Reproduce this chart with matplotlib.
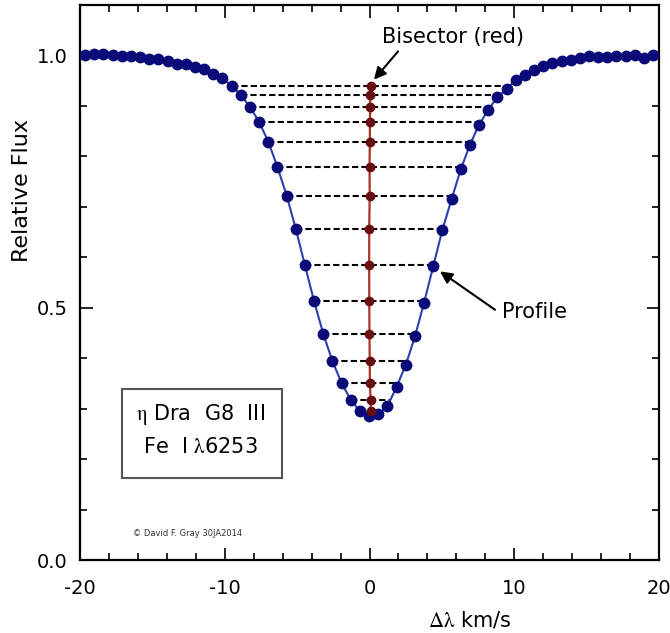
import numpy as np
import matplotlib
matplotlib.use("Agg")
import matplotlib.pyplot as plt
from matplotlib.patches import Rectangle
from matplotlib.ticker import MultipleLocator, FixedLocator, FormatStrFormatter

plt.rcParams['font.family'] = ['DejaVu Sans']
plt.rcParams['mathtext.fontset'] = 'stix'
plt.rcParams['axes.unicode_minus'] = False

# ---- data ----
velocity = [-19.65, -19.02, -18.38, -17.75, -17.12, -16.49, -15.85, -15.22, -14.59, -13.95,
            -13.32, -12.69, -12.05, -11.42, -10.79, -10.16, -9.52, -8.89, -8.26, -7.62,
            -6.99, -6.36, -5.72, -5.09, -4.46, -3.83, -3.19, -2.56, -1.93, -1.29,
            -0.66, -0.03, 0.61, 1.24, 1.87, 2.51, 3.14, 3.77, 4.40, 5.04,
            5.67, 6.30, 6.94, 7.57, 8.20, 8.84, 9.47, 10.10, 10.73, 11.37,
            12.00, 12.63, 13.27, 13.90, 14.53, 15.17, 15.80, 16.43, 17.06, 17.70,
            18.33, 18.96, 19.60]
flux = [1.001, 1.003, 1.003, 1.001, 0.999, 0.999, 0.997, 0.993, 0.993, 0.989,
        0.984, 0.984, 0.978, 0.974, 0.964, 0.955, 0.939, 0.922, 0.898, 0.868,
        0.829, 0.779, 0.722, 0.656, 0.584, 0.513, 0.448, 0.394, 0.351, 0.317,
        0.295, 0.285, 0.289, 0.305, 0.343, 0.387, 0.443, 0.510, 0.582, 0.655,
        0.715, 0.774, 0.823, 0.863, 0.892, 0.918, 0.933, 0.952, 0.961, 0.972,
        0.979, 0.986, 0.989, 0.991, 0.994, 0.999, 0.996, 0.996, 0.998, 0.999,
        1.000, 0.995, 1.001]
# bisector levels start at these left-wing points
bisector_first, bisector_last = 16, 30
x_ticks = [-20, -10, 0, 10, 20]
y_ticks = [0.0, 0.5, 1.0]

v = np.array(velocity)
f = np.array(flux)

fig = plt.figure(figsize=(6.7, 6.33), dpi=100)
ax = fig.add_axes([0.1194, 0.1153, 0.8642, 0.8768])
ax.set_xlim(-20, 20)
ax.set_ylim(0, 1.1)

# bisector construction
imin = int(np.argmin(f))
rv, rf = v[imin:imin + 17], f[imin:imin + 17]
levels = f[bisector_first:bisector_last + 1]
left_x = v[bisector_first:bisector_last + 1]
right_x = np.interp(levels, rf, rv)
bis_x = 0.5 * (left_x + right_x)

for lx, rx, lv in zip(left_x, right_x, levels):
    ax.plot([lx, rx], [lv, lv], color='black', lw=1.5, dashes=(3, 1.5), zorder=2)

ax.plot(v, f, color='#2a40b0', lw=1.5, zorder=3)
ax.plot(v, f, 'o', color='#0a0a78', ms=7.5, mec='#0a0a78', zorder=4)

ax.plot(bis_x, levels, color='#a83228', lw=1.6, zorder=5)
ax.plot(bis_x, levels, 'o', color='#681010', ms=6.0, zorder=6)

# axes styling
for s in ax.spines.values():
    s.set_linewidth(1.6)
ax.xaxis.set_major_locator(FixedLocator(x_ticks))
ax.xaxis.set_minor_locator(MultipleLocator(2))
ax.yaxis.set_major_locator(FixedLocator(y_ticks))
ax.yaxis.set_minor_locator(MultipleLocator(0.1))
ax.yaxis.set_major_formatter(FormatStrFormatter('%.1f'))
ax.tick_params(which='both', direction='in', top=True, right=True, width=1.2,
               labelsize=14, colors='black')
ax.tick_params(which='major', length=9)
ax.tick_params(which='minor', length=5)
ax.tick_params(axis='x', pad=14)
ax.tick_params(axis='y', pad=9)

fig.text(22 / 670, 1 - 190 / 633, 'Relative Flux', rotation=90, ha='center', va='center',
         fontsize=16)
fig.text(470 / 670, 1 - 620 / 633, r'$\mathrm{\Delta\lambda}$ km/s', ha='center', va='center',
         fontsize=15)

# annotations
ax.text(5.77, 1.036, 'Bisector (red)', ha='center', va='center', fontsize=15)
ax.annotate('', xy=(0.31, 0.952), xytext=(1.97, 1.008),
            arrowprops=dict(arrowstyle='-|>', color='black', lw=1.5,
                            mutation_scale=18, shrinkA=0, shrinkB=0), zorder=7)
ax.text(11.43, 0.492, 'Profile', ha='center', va='center', fontsize=15)
ax.annotate('', xy=(4.87, 0.572), xytext=(8.67, 0.496),
            arrowprops=dict(arrowstyle='-|>', color='black', lw=1.5,
                            mutation_scale=18, shrinkA=0, shrinkB=0), zorder=7)

ax.add_patch(Rectangle((-17.1, 0.163), 11.05, 0.176, fill=False,
                       edgecolor='#555555', lw=1.5, zorder=3))
ax.text(-11.65, 0.289, r'$\mathrm{\eta}$ Dra  G8  III', ha='center', va='center', fontsize=15)
ax.text(-11.65, 0.223, r'Fe  I $\mathrm{\lambda}$6253', ha='center', va='center', fontsize=15)

ax.text(-16.34, 0.052, '\u00a9 David F. Gray 30JA2014', ha='left', va='center',
        fontsize=6, color='#333333')

fig.savefig('out.png', dpi=100)
